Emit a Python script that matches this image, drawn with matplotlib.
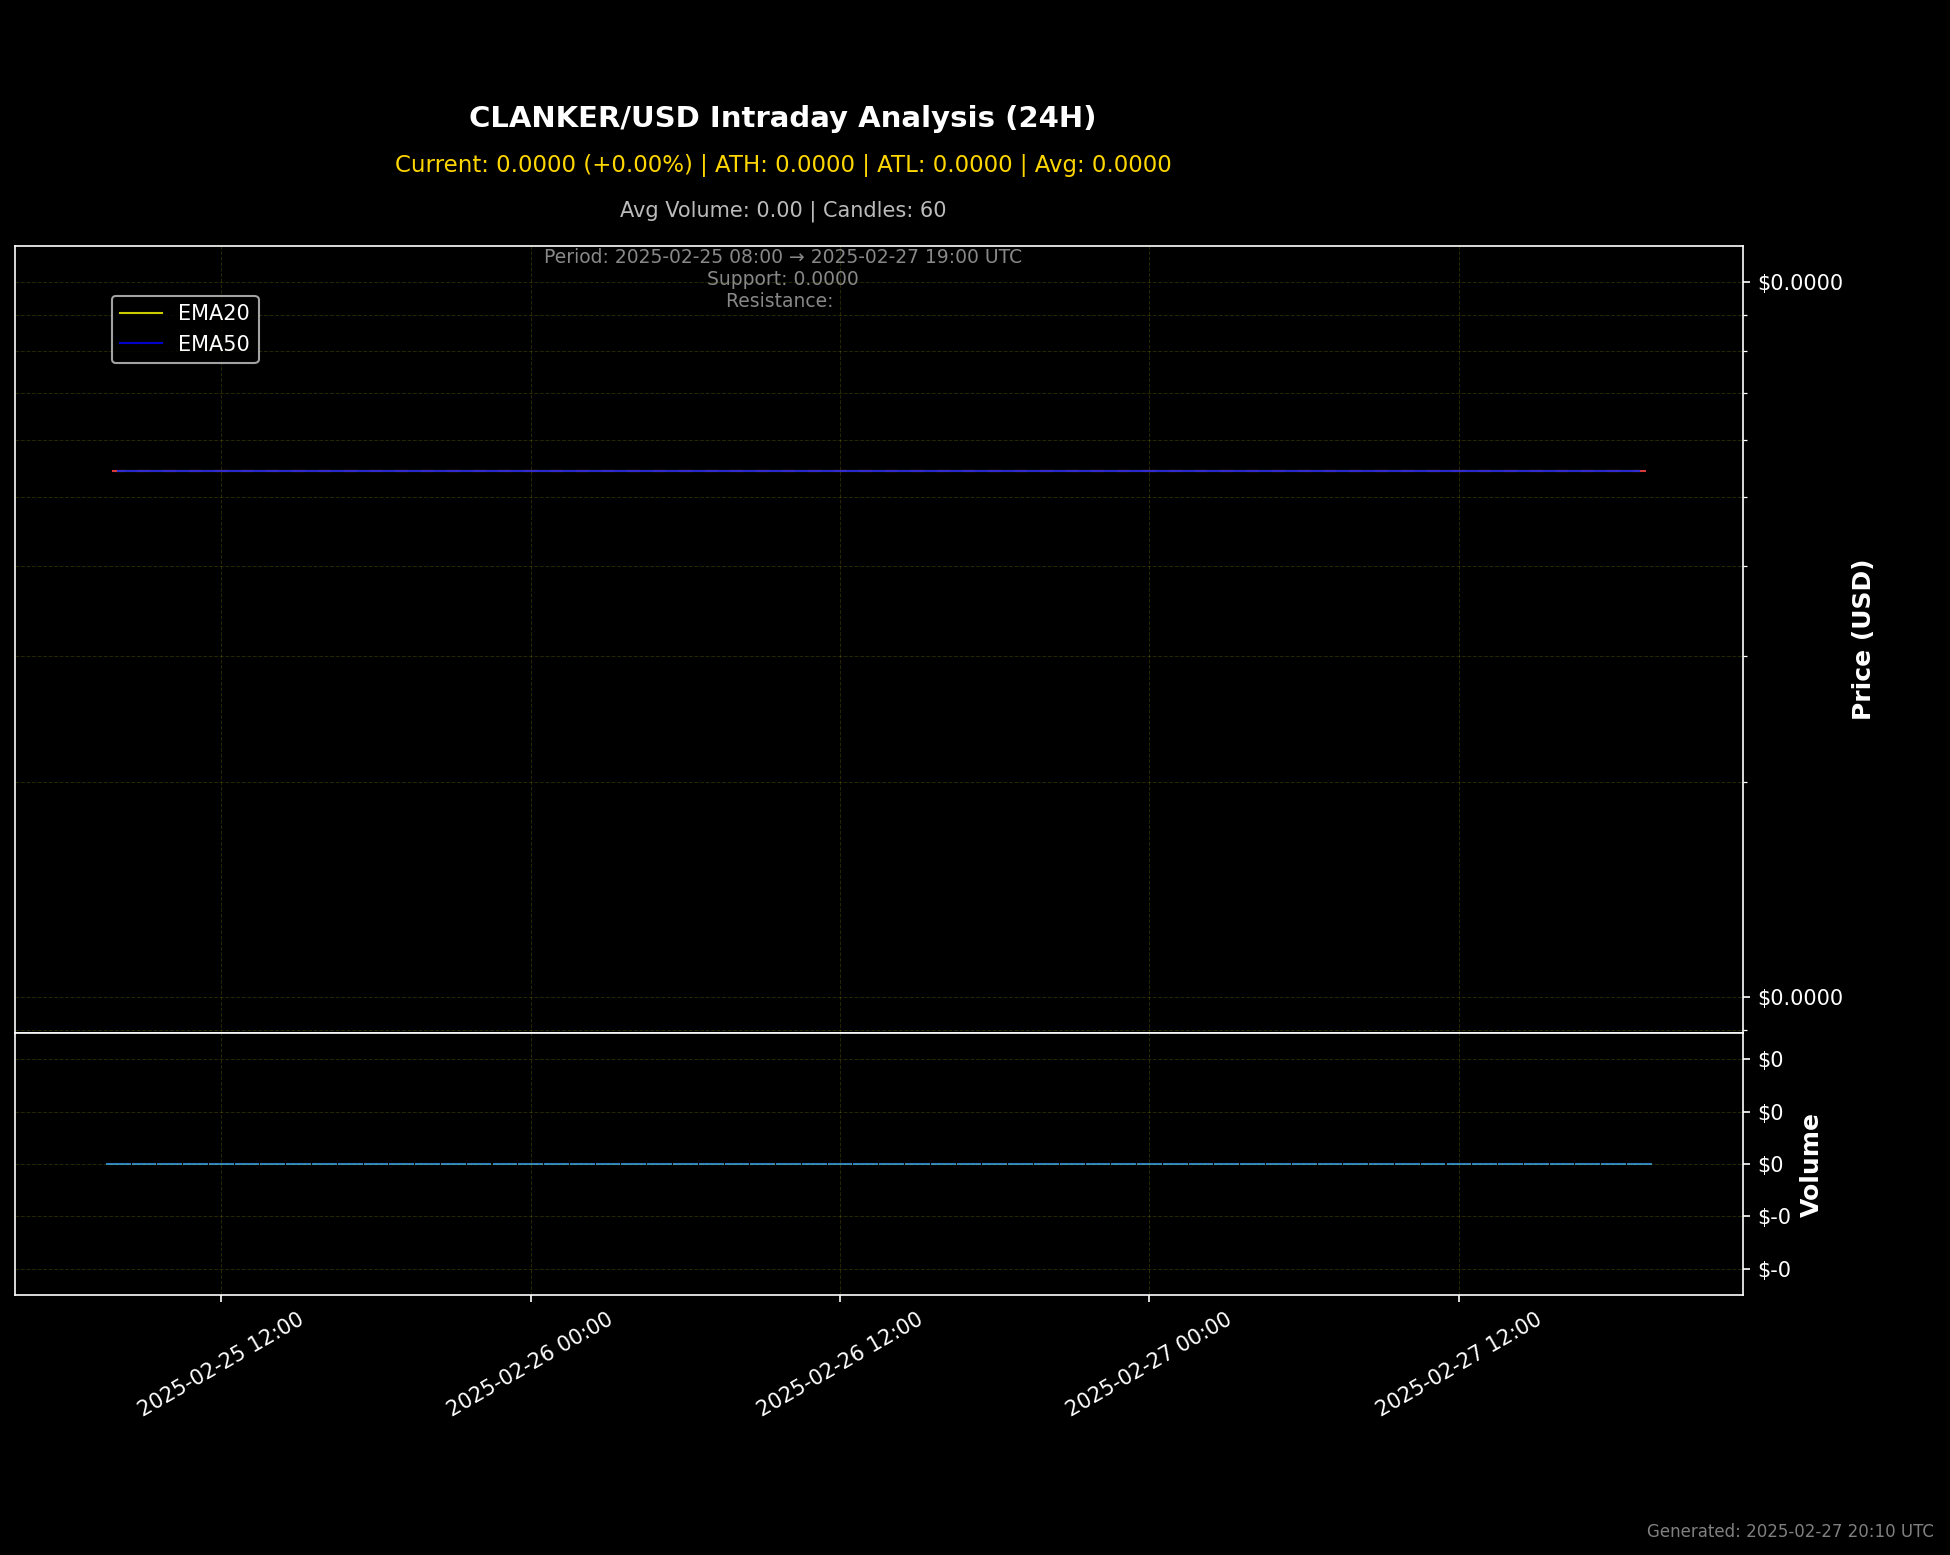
import matplotlib
matplotlib.use("Agg")
import matplotlib.pyplot as plt
import matplotlib.dates as mdates
from matplotlib.ticker import FuncFormatter, NullFormatter
import pandas as pd

# hourly candles, 2025-02-25 08:00 -> 2025-02-27 19:00 UTC (60 candles)
times = pd.date_range("2025-02-25 08:00", "2025-02-27 19:00", freq="h")
open_ = [5.44e-6] * 60
high = [5.44e-6] * 60
low = [5.44e-6] * 60
close = [5.44e-6] * 60
volume = [0.0] * 60

ema20 = pd.Series(close).ewm(span=20, adjust=False).mean()
ema50 = pd.Series(close).ewm(span=50, adjust=False).mean()

title = "CLANKER/USD Intraday Analysis (24H)"
stats = "Current: 0.0000 (+0.00%) | ATH: 0.0000 | ATL: 0.0000 | Avg: 0.0000"
vol_stats = "Avg Volume: 0.00 | Candles: 60"
levels = "Period: 2025-02-25 08:00 \u2192 2025-02-27 19:00 UTC\nSupport: 0.0000\nResistance: "
generated = "Generated: 2025-02-27 20:10 UTC"

plt.style.use("dark_background")
fig = plt.figure(figsize=(13, 1555 / 150), dpi=150)
ax = fig.add_axes([0.00769, 0.33569, 0.8859, 0.50611])
ax_vol = fig.add_axes([0.00769, 0.1672, 0.8859, 0.16849], sharex=ax)

x = mdates.date2num(times)

# candles
colors = ["#33cc66" if c > o else "#ff4444" for o, c in zip(open_, close)]
ax.vlines(x, low, high, colors=colors, linewidth=1, alpha=0.85)
ax.bar(x, [c - o for o, c in zip(open_, close)], bottom=open_, width=0.5 / 24,
       color=colors, edgecolor=colors, linewidth=1, alpha=0.85)

ax.plot(x, ema20, color="yellow", linewidth=1, alpha=0.8, label="EMA20")
ax.plot(x, ema50, color="blue", linewidth=1, alpha=0.8, label="EMA50")

ax.set_yscale("log")
ax.yaxis.tick_right()
ax.yaxis.set_label_position("right")
ax.yaxis.set_major_formatter(FuncFormatter(lambda v, p: f"${v:.4f}"))
ax.yaxis.set_minor_formatter(NullFormatter())
ax.set_ylabel("Price (USD)", fontsize=12, fontweight="bold")
ax.grid(True, which="both", color="yellow", alpha=0.15, linestyle="--", linewidth=0.5)
ax.tick_params(axis="x", labelbottom=False)
ax.legend(loc="upper left", bbox_to_anchor=(0.05, 0.95), fontsize=10)

# volume
ax_vol.bar(x, volume, width=0.04, color="#1f77b4", edgecolor="#2a80c0", linewidth=1)
ax_vol.margins(y=0)
ax_vol.yaxis.tick_right()
ax_vol.yaxis.set_label_position("right")
ax_vol.yaxis.set_major_formatter(FuncFormatter(lambda v, p: f"${v:,.0f}"))
ax_vol.set_ylabel("Volume", fontsize=12, fontweight="bold")
ax_vol.grid(True, color="yellow", alpha=0.15, linestyle="--", linewidth=0.5)

ax_vol.xaxis.set_major_locator(mdates.HourLocator(byhour=[0, 12]))
ax_vol.xaxis.set_major_formatter(mdates.DateFormatter("%Y-%m-%d %H:%M"))
ax_vol.tick_params(axis="x", labelrotation=30, labelsize=10)
ax_vol.set_xlim(x[0] - 4 / 24, x[-1] + 4 / 24)

# header texts
fig.text(0.4015, 0.9185, title, ha="center", va="baseline", fontsize=14,
         fontweight="bold", color="white")
fig.text(0.4015, 0.8894, stats, ha="center", va="baseline", fontsize=11, color="gold")
fig.text(0.4015, 0.8605, vol_stats, ha="center", va="baseline", fontsize=10, color="#bbbbbb")
fig.text(0.4015, 0.8405, levels, ha="center", va="top", fontsize=9, color="#888888")
fig.text(0.9918, 0.0116, generated, ha="right", va="baseline", fontsize=8, color="gray")

fig.savefig("out.png", dpi=150, facecolor="black")
